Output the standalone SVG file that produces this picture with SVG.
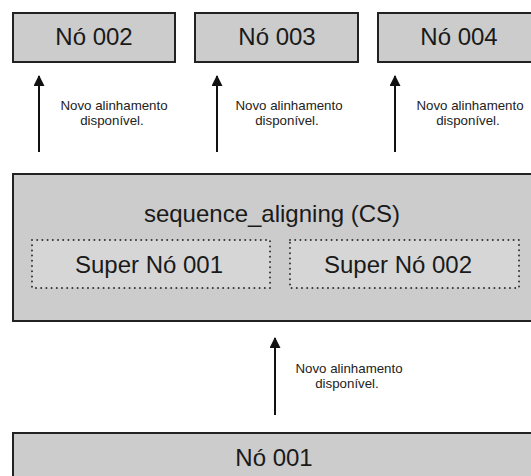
<svg xmlns="http://www.w3.org/2000/svg" width="531" height="476" viewBox="0 0 531 476">
  <style>
    .box { fill: #cccccc; stroke: #222222; stroke-width: 2; }
    .sub { fill: #d6d6d6; stroke: #333333; stroke-width: 2; stroke-dasharray: 0 5.2; stroke-linecap: round; }
    .big { font-family: "Liberation Sans", Arial, sans-serif; font-size: 24px; fill: #1a1a1a; text-anchor: middle; }
    .lbl { font-family: "Liberation Sans", Arial, sans-serif; font-size: 13.3px; fill: #222222; text-anchor: middle; }
    .edge { stroke: #111111; stroke-width: 2; fill: none; marker-end: url(#arrow); }
  </style>
  <defs>
    <marker id="arrow" viewBox="0 0 10 10" refX="9" refY="5" markerWidth="7" markerHeight="5.5" markerUnits="strokeWidth" orient="auto">
      <path d="M0,0 L10,5 L0,10 z" fill="#111111"/>
    </marker>
  </defs>
  <rect width="531" height="476" fill="#ffffff"/>

  <g id="no002">
    <rect class="box" x="13" y="13" width="162" height="49"/>
    <text class="big" x="94" y="45">Nó 002</text>
  </g>
  <g id="no003">
    <rect class="box" x="195" y="13" width="163" height="49"/>
    <text class="big" x="277" y="45">Nó 003</text>
  </g>
  <g id="no004">
    <rect class="box" x="378" y="13" width="163" height="49"/>
    <text class="big" x="459" y="45">Nó 004</text>
  </g>

  <g id="sequence_aligning">
    <rect class="box" x="13" y="174" width="528" height="147"/>
    <text class="big" x="272" y="222">sequence_aligning (CS)</text>
    <g id="superno001">
      <rect class="sub" x="32" y="240" width="238" height="48"/>
      <text class="big" x="149" y="273">Super Nó 001</text>
    </g>
    <g id="superno002">
      <rect class="sub" x="290" y="240" width="229" height="48"/>
      <text class="big" x="398" y="273">Super Nó 002</text>
    </g>
  </g>

  <g id="no001">
    <rect class="box" x="13" y="433" width="528" height="60"/>
    <text class="big" x="274" y="466">Nó 001</text>
  </g>

  <g id="connectors">
    <line class="edge" x1="39" y1="152" x2="39" y2="76"/>
    <line class="edge" x1="217" y1="152" x2="217" y2="76"/>
    <line class="edge" x1="395" y1="152" x2="395" y2="76"/>
    <line class="edge" x1="275" y1="415" x2="275" y2="338"/>
    <text class="lbl" x="114" y="110">Novo alinhamento</text>
    <text class="lbl" x="112" y="125">disponível.</text>
    <text class="lbl" x="289" y="110">Novo alinhamento</text>
    <text class="lbl" x="287" y="125">disponível.</text>
    <text class="lbl" x="470" y="110">Novo alinhamento</text>
    <text class="lbl" x="468" y="125">disponível.</text>
    <text class="lbl" x="349" y="373">Novo alinhamento</text>
    <text class="lbl" x="347" y="388">disponível.</text>
  </g>
</svg>
